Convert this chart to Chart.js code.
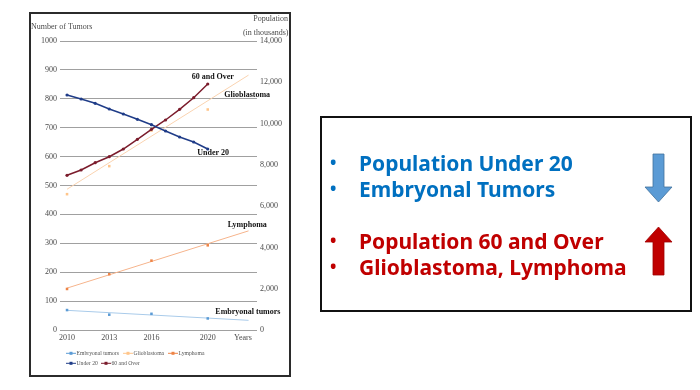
<!DOCTYPE html>
<html>
<head>
<meta charset="utf-8">
<script src="https://cdn.jsdelivr.net/npm/chart.js@4.4.1/dist/chart.umd.min.js"></script>
<style>
  html, body { margin: 0; padding: 0; background: #ffffff; }
  body { width: 700px; height: 390px; position: relative; overflow: hidden; }
  #leftBox { position: absolute; left: 29px; top: 12px; width: 262px; height: 365px; box-sizing: border-box; border: 2px solid #2b2b2b; }
  #chartCanvas { position: absolute; left: 31px; top: 14px; }
  #rightBox { position: absolute; left: 320px; top: 116px; width: 372px; height: 196px; box-sizing: border-box; border: 2px solid #111; }
  .ln { position: absolute; left: 0; font-family: "Noto Sans", "Open Sans", sans-serif; font-weight: 700; font-size: 21px; line-height: 26px; white-space: nowrap; }
  .ln .b { position: absolute; left: 8px; font-size: 17px; }
  .ln .t { position: absolute; left: 37px; }
  .blue { color: #0070C0; }
  .red { color: #C00000; }
  #arrows { position: absolute; left: 0; top: 0; }
</style>
</head>
<body>
<div id="leftBox"></div>
<canvas id="chartCanvas" width="258" height="361"></canvas>
<div id="rightBox"></div>
<svg id="arrows" width="700" height="390">
  <polygon points="653,154 664,154 664,187 672,187 658.5,202 645,187 653,187" fill="#5B9BD5" stroke="#41719C" stroke-width="0.8"/>
  <polygon points="658.5,227 672,242 664,242 664,275 653,275 653,242 645,242" fill="#C00000" stroke="#A00000" stroke-width="0.8"/>
</svg>
<script>
// ---- data ----
const popYears = [2010, 2011, 2012, 2013, 2014, 2015, 2016, 2017, 2018, 2019, 2020];
const under20 = [11384, 11190, 10982, 10706, 10464, 10207, 9945, 9640, 9350, 9107, 8768];
const over60  = [7494, 7751, 8104, 8395, 8768, 9238, 9723, 10173, 10691, 11253, 11917];

const tumorYears = [2010, 2013, 2016, 2020];
const embryonal    = [69, 53, 56, 40];
const glioblastoma = [470, 567, 690, 763];
const lymphoma     = [142, 193, 240, 293];

const trendYears = [2010, 2022.9];
const embryonalTrend    = [68, 33.5];
const glioblastomaTrend = [487, 882];
const lymphomaTrend     = [145, 343];

const xTickValues = [2010, 2013, 2016, 2020];
const xAxisLabel = 'Years';
const leftTitle = 'Number of Tumors';
const rightTitle = ['Population', '(in thousands)'];
const seriesNames = ['Embryonal tumors', 'Glioblastoma', 'Lymphoma', 'Under 20', '60 and Over'];
const chartLabels = ['60 and Over', 'Glioblastoma', 'Under 20', 'Lymphoma', 'Embryonal tumors'];

const bulletsBlue = ['Population Under 20', 'Embryonal Tumors'];
const bulletsRed = ['Population 60 and Over', 'Glioblastoma, Lymphoma'];

// ---- right panel text ----
(function () {
  const lines = [
    { text: bulletsBlue[0], cls: 'blue', top: 150 },
    { text: bulletsBlue[1], cls: 'blue', top: 176 },
    { text: bulletsRed[0], cls: 'red', top: 228 },
    { text: bulletsRed[1], cls: 'red', top: 254 }
  ];
  lines.forEach(l => {
    const d = document.createElement('div');
    d.className = 'ln ' + l.cls;
    d.style.top = l.top + 'px';
    d.style.left = '322px';
    d.innerHTML = '<span class="b">\u2022</span><span class="t"></span>';
    d.querySelector('.t').textContent = l.text;
    document.body.appendChild(d);
  });
})();

// ---- chart ----
const pts = (xs, ys) => xs.map((x, i) => ({ x: x, y: ys[i] }));
const serif = '"Liberation Serif", "DejaVu Serif", serif';
const colors = {
  emb: '#5B9BD5', embLine: '#A9CBEA',
  glio: '#FFC58A', glioLine: '#FAD3B0',
  lym: '#EE8446', lymLine: '#F6B48C',
  u20: '#1F3C88', o60: '#7B1C2C'
};

const overlay = {
  id: 'overlay',
  afterDraw(chart) {
    const c = chart.ctx;
    c.save();
    c.textBaseline = 'middle';
    c.fillStyle = '#4a4a4a';
    c.font = '8px ' + serif;
    c.textAlign = 'left';
    c.fillText(leftTitle, 0, 13);
    c.textAlign = 'right';
    c.fillText(rightTitle[0], 257, 5);
    c.fillText(rightTitle[1], 257.5, 19);
    c.textAlign = 'left';
    c.fillText(xAxisLabel, 203, 323.5);

    c.fillStyle = '#111';
    c.font = 'bold 8px ' + serif;
    const lp = [[160.7, 62.7], [193.3, 81], [166.3, 138.7], [196.7, 211], [184.3, 298.3]];
    chartLabels.forEach((t, i) => c.fillText(t, lp[i][0], lp[i][1]));

    // legend
    const leg = [
      { name: seriesNames[0], col: colors.emb, x: 35, y: 339.3 },
      { name: seriesNames[1], col: colors.glio, x: 92, y: 339.3 },
      { name: seriesNames[2], col: colors.lym, x: 137, y: 339.3 },
      { name: seriesNames[3], col: colors.u20, x: 35, y: 349.3 },
      { name: seriesNames[4], col: colors.o60, x: 70, y: 349.3 }
    ];
    c.font = '5.7px ' + serif;
    leg.forEach(l => {
      c.strokeStyle = l.col; c.lineWidth = 1;
      c.beginPath(); c.moveTo(l.x, l.y); c.lineTo(l.x + 10, l.y); c.stroke();
      c.fillStyle = l.col;
      c.fillRect(l.x + 3.5, l.y - 1.5, 3, 3);
      c.fillStyle = '#555';
      c.fillText(l.name, l.x + 10.5, l.y);
    });
    c.restore();
  }
};

new Chart(document.getElementById('chartCanvas'), {
  type: 'line',
  data: {
    datasets: [
      { label: seriesNames[3], data: pts(popYears, under20), yAxisID: 'y2', borderColor: colors.u20, backgroundColor: colors.u20, borderWidth: 1.5, pointRadius: 1.6, pointBorderWidth: 0, order: 0 },
      { label: seriesNames[4], data: pts(popYears, over60), yAxisID: 'y2', borderColor: colors.o60, backgroundColor: colors.o60, borderWidth: 1.5, pointRadius: 1.6, pointBorderWidth: 0, order: 0 },
      { label: 'emb trend', data: pts(trendYears, embryonalTrend), yAxisID: 'y', borderColor: colors.embLine, borderWidth: 1, pointRadius: 0, order: 2 },
      { label: 'glio trend', data: pts(trendYears, glioblastomaTrend), yAxisID: 'y', borderColor: colors.glioLine, borderWidth: 1, pointRadius: 0, order: 2 },
      { label: 'lym trend', data: pts(trendYears, lymphomaTrend), yAxisID: 'y', borderColor: colors.lymLine, borderWidth: 1, pointRadius: 0, order: 2 },
      { label: seriesNames[0], data: pts(tumorYears, embryonal), yAxisID: 'y', showLine: false, pointStyle: 'rect', pointRadius: 1.8, pointBorderWidth: 0, backgroundColor: colors.emb, borderColor: colors.emb, order: 1 },
      { label: seriesNames[1], data: pts(tumorYears, glioblastoma), yAxisID: 'y', showLine: false, pointStyle: 'rect', pointRadius: 1.8, pointBorderWidth: 0, backgroundColor: colors.glio, borderColor: colors.glio, order: 1 },
      { label: seriesNames[2], data: pts(tumorYears, lymphoma), yAxisID: 'y', showLine: false, pointStyle: 'rect', pointRadius: 1.8, pointBorderWidth: 0, backgroundColor: colors.lym, borderColor: colors.lym, order: 1 }
    ]
  },
  options: {
    responsive: false,
    animation: false,
    devicePixelRatio: 1,
    layout: { padding: { top: 27, bottom: 31, left: 0, right: 0 } },
    plugins: { legend: { display: false }, tooltip: { enabled: false } },
    scales: {
      x: {
        type: 'linear', min: 2009.5, max: 2023.5,
        grid: { display: false, drawTicks: false }, border: { display: false },
        afterBuildTicks: s => { s.ticks = xTickValues.map(v => ({ value: v })); },
        afterFit: s => { s.height = 14; },
        ticks: { autoSkip: false, maxRotation: 0, padding: 3, color: '#4a4a4a', font: { family: serif, size: 8 }, callback: v => String(v) }
      },
      y: {
        position: 'left', min: 0, max: 1000,
        grid: { color: '#A0A0A0', lineWidth: 1, drawTicks: false }, border: { display: false },
        afterFit: s => { s.width = 29; },
        ticks: { stepSize: 100, padding: 3, color: '#4a4a4a', font: { family: serif, size: 8 }, callback: v => String(v) }
      },
      y2: {
        position: 'right', min: 0, max: 14000,
        grid: { display: false, drawTicks: false }, border: { display: false },
        afterFit: s => { s.width = 32; },
        ticks: { stepSize: 2000, padding: 3, color: '#4a4a4a', font: { family: serif, size: 8 }, callback: v => v.toLocaleString('en-US') }
      }
    }
  },
  plugins: [overlay]
});
</script>
</body>
</html>
